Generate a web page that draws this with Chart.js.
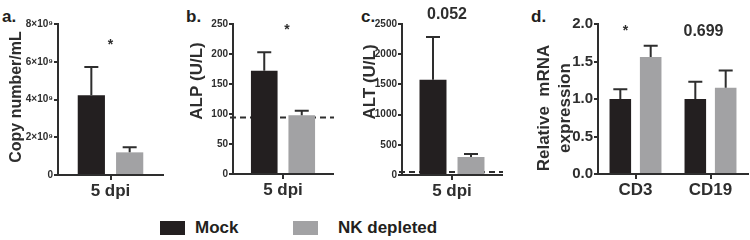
<!DOCTYPE html>
<html>
<head>
<meta charset="utf-8">
<script src="https://cdn.jsdelivr.net/npm/chart.js@4.4.1/dist/chart.umd.min.js"></script>
<style>
    html, body { margin: 0; padding: 0; background: #fff; }
    body { width: 750px; height: 240px; position: relative; overflow: hidden;
           font-family: 'Liberation Sans', Arial, sans-serif; color: #231f20; }
    canvas { position: absolute; top: 0; }
    .tag { position: absolute; top: 8px; font-size: 17px; font-weight: bold; line-height: 17px; }
    .key { position: absolute; top: 221px; width: 25px; height: 14px; }
    .keytext { position: absolute; top: 219px; font-size: 17px; font-weight: bold; line-height: 17px; }
</style>
</head>
<body>
<div class="tag" style="left:2px">a.</div>
<div class="tag" style="left:186px">b.</div>
<div class="tag" style="left:361px">c.</div>
<div class="tag" style="left:531px">d.</div>

<canvas id="copyChart" width="170" height="200" style="left:0px"></canvas>
<canvas id="alpChart" width="155" height="200" style="left:185px"></canvas>
<canvas id="altChart" width="155" height="200" style="left:355px"></canvas>
<canvas id="mrnaChart" width="220" height="200" style="left:530px"></canvas>

<div class="key" style="left:160px;background:#231f20"></div>
<div class="keytext" style="left:195px">Mock</div>
<div class="key" style="left:293px;background:#a2a2a4"></div>
<div class="keytext" style="left:338px">NK depleted</div>

<script>
// series names
const seriesNames = ['Mock', 'NK depleted'];

// a. viral copy number
const copyLabels = ['5 dpi'];
const copyMock = [4.23e9];
const copyMockSem = [1.49e9];
const copyNk = [1.2e9];
const copyNkSem = [0.27e9];

// b. ALP
const alpLabels = ['5 dpi'];
const alpMock = [172];
const alpMockSem = [31];
const alpNk = [98];
const alpNkSem = [7.5];
const alpNormal = 94;

// c. ALT
const altLabels = ['5 dpi'];
const altMock = [1575];
const altMockSem = [710];
const altNk = [298];
const altNkSem = [50];
const altNormal = 50;

// d. relative mRNA expression
const mrnaLabels = ['CD3', 'CD19'];
const mrnaMock = [1.0, 1.0];
const mrnaMockSem = [0.13, 0.23];
const mrnaNk = [1.56, 1.15];
const mrnaNkSem = [0.15, 0.23];

const ink = '#2e2e2e';
const mockColor = '#231f20';
const nkColor = '#a2a2a4';
const fontFamily = "'Liberation Sans', Arial, sans-serif";

Chart.defaults.font.family = fontFamily;
Chart.defaults.color = ink;

// error bars, dashed reference line, significance marks, y titles
const panelExtras = {
    id: 'panelExtras',
    beforeDatasetsDraw(chart, args, opts) {
        if (opts.refLine == null) return;
        const {ctx, chartArea} = chart;
        const y = chart.scales.y.getPixelForValue(opts.refLine);
        ctx.save();
        ctx.strokeStyle = ink;
        ctx.lineWidth = 2;
        ctx.setLineDash([6, 4]);
        ctx.beginPath();
        ctx.moveTo(chartArea.left - 3, y);
        ctx.lineTo(chartArea.right + 1, y);
        ctx.stroke();
        ctx.restore();
    },
    afterDatasetsDraw(chart, args, opts) {
        const {ctx} = chart;
        const yAxis = chart.scales.y;
        const xAxis = chart.scales.x;
        ctx.save();
        ctx.strokeStyle = ink;
        ctx.lineWidth = 2;
        chart.data.datasets.forEach((ds, i) => {
            chart.getDatasetMeta(i).data.forEach((bar, j) => {
                const top = yAxis.getPixelForValue(ds.data[j] + ds.sem[j]);
                ctx.beginPath();
                ctx.moveTo(bar.x, bar.y);
                ctx.lineTo(bar.x, top);
                ctx.moveTo(bar.x - 7, top);
                ctx.lineTo(bar.x + 7, top);
                ctx.stroke();
            });
        });
        ctx.fillStyle = ink;
        ctx.textAlign = 'center';
        ctx.textBaseline = 'middle';
        (opts.marks || []).forEach(m => {
            ctx.font = 'bold ' + m.size + 'px ' + fontFamily;
            ctx.fillText(m.text, xAxis.getPixelForValue(m.index) + m.dx, yAxis.getPixelForValue(m.at));
        });
        const t = opts.title;
        if (t) {
            ctx.font = 'bold ' + t.size + 'px ' + fontFamily;
            t.lines.forEach((line, k) => {
                ctx.save();
                ctx.translate(t.x + k * t.gap, t.y);
                ctx.rotate(-Math.PI / 2);
                ctx.fillText(line, 0, 0);
                ctx.restore();
            });
        }
        ctx.restore();
    }
};

function makePanel(id, cfg) {
    const ctx = document.getElementById(id);
    return new Chart(ctx, {
        type: 'bar',
        data: {
            labels: cfg.labels,
            datasets: [{
                label: seriesNames[0],
                data: cfg.mock,
                sem: cfg.mockSem,
                backgroundColor: mockColor
            }, {
                label: seriesNames[1],
                data: cfg.nk,
                sem: cfg.nkSem,
                backgroundColor: nkColor
            }]
        },
        options: {
            responsive: false,
            animation: false,
            devicePixelRatio: 1,
            categoryPercentage: cfg.catPct,
            barPercentage: 0.71,
            layout: { padding: { left: 0, top: 24, right: cfg.padRight, bottom: 0 } },
            plugins: {
                legend: { display: false },
                tooltip: { enabled: false },
                panelExtras: {
                    refLine: cfg.refLine,
                    marks: cfg.marks,
                    title: cfg.title
                }
            },
            scales: {
                x: {
                    ticks: { color: ink, font: { size: 17, weight: 'bold' }, padding: 1 },
                    grid: { offset: false, drawOnChartArea: false, tickLength: 5, color: ink, lineWidth: 2 },
                    border: { color: ink, width: 2 },
                    afterFit: s => { s.height = 200 - cfg.bottom; }
                },
                y: {
                    min: 0,
                    max: cfg.max,
                    ticks: {
                        stepSize: cfg.step,
                        color: ink,
                        font: { size: cfg.tickSize, weight: 'bold' },
                        padding: 1,
                        callback: cfg.fmt
                    },
                    grid: { drawOnChartArea: false, tickLength: 4, color: ink, lineWidth: 2 },
                    border: { color: ink, width: 2 },
                    afterFit: s => { s.width = cfg.axisWidth; }
                }
            }
        },
        plugins: [panelExtras]
    });
}

makePanel('copyChart', {
    labels: copyLabels, mock: copyMock, mockSem: copyMockSem, nk: copyNk, nkSem: copyNkSem,
    max: 8e9, step: 2e9, tickSize: 10, axisWidth: 58, padRight: 7, bottom: 175, catPct: 0.73,
    fmt: v => v === 0 ? '0' : (v / 1e9) + '×10⁹',
    marks: [{ text: '*', index: 0, dx: 0, at: 6.9e9, size: 14 }],
    title: { lines: ['Copy number/mL'], x: 17, y: 97, size: 16, gap: 0 }
});

makePanel('alpChart', {
    labels: alpLabels, mock: alpMock, mockSem: alpMockSem, nk: alpNk, nkSem: alpNkSem,
    max: 250, step: 50, tickSize: 10, axisWidth: 48, padRight: 7, bottom: 174, catPct: 0.75,
    refLine: alpNormal,
    marks: [{ text: '*', index: 0, dx: 4, at: 240, size: 14 }],
    title: { lines: ['ALP (U/L)'], x: 12, y: 81, size: 17, gap: 0 }
});

makePanel('altChart', {
    labels: altLabels, mock: altMock, mockSem: altMockSem, nk: altNk, nkSem: altNkSem,
    max: 2500, step: 500, tickSize: 10, axisWidth: 47, padRight: 8, bottom: 175, catPct: 0.76,
    refLine: altNormal,
    marks: [{ text: '0.052', index: 0, dx: -5, at: 2650, size: 16 }],
    title: { lines: ['ALT (U/L)'], x: 15, y: 82, size: 17, gap: 0 }
});

makePanel('mrnaChart', {
    labels: mrnaLabels, mock: mrnaMock, mockSem: mrnaMockSem, nk: mrnaNk, nkSem: mrnaNkSem,
    max: 2.0, step: 0.5, tickSize: 15, axisWidth: 68, padRight: 2, bottom: 174, catPct: 0.81,
    fmt: v => v.toFixed(1),
    marks: [
        { text: '*', index: 0, dx: -10, at: 1.91, size: 14 },
        { text: '0.699', index: 1, dx: -7, at: 1.9, size: 16 }
    ],
    title: { lines: ['Relative  mRNA', 'expression'], x: 14, y: 108, size: 17, gap: 21 }
});
</script>
</body>
</html>
